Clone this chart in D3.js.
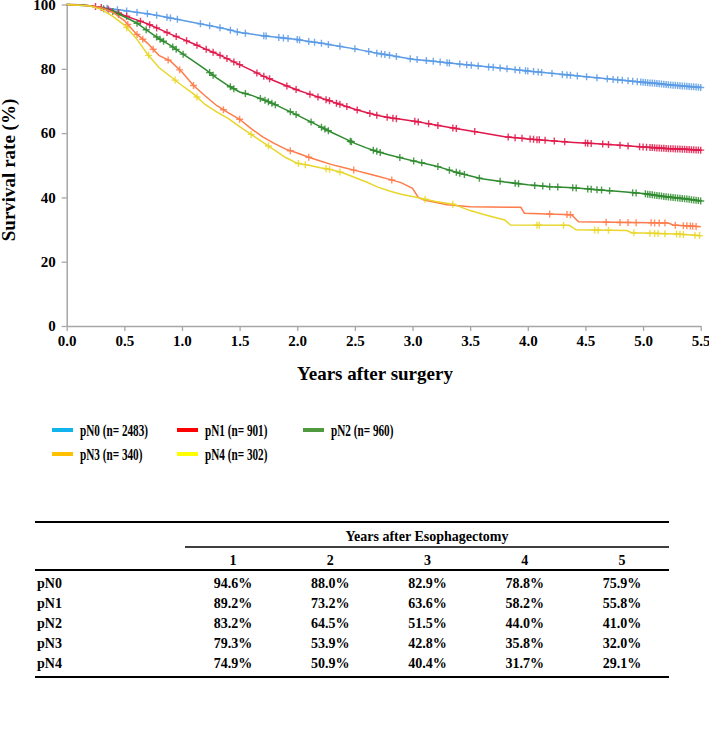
<!DOCTYPE html>
<html>
<head>
<meta charset="utf-8">
<script src="https://cdn.jsdelivr.net/npm/d3@7"></script>
<style>
  body { margin: 0; background: #fff; }
  text { font-family: "Liberation Serif", "Times New Roman", serif; font-weight: bold; }
</style>
</head>
<body>
<div id="chart"></div>
<script>
// Kaplan-Meier knots (years, survival %)
var t0 = [0,0.1,0.2,0.3,0.4,0.5,0.6,0.7,0.8,0.9,1.0,1.1,1.2,1.3,1.4,1.5,1.6,1.7,1.8,1.9,2.0,2.1,2.2,2.3,2.4,2.5,2.6,2.7,2.8,2.9,3.0,3.2,3.4,3.6,3.8,4.0,4.2,4.4,4.6,4.8,5.0,5.1,5.2,5.3,5.4,5.5];
var s0 = [100,99.8,99.5,99.1,98.6,98.1,97.6,97.1,96.5,95.8,95.1,94.4,93.7,93.0,92.2,91.3,90.8,90.3,89.9,89.5,89.1,88.5,88.0,87.4,86.8,86.2,85.5,84.8,84.2,83.6,83.0,82.3,81.5,80.8,80.1,79.3,78.6,77.9,77.2,76.5,75.8,75.5,75.1,74.8,74.5,74.2];
var t1 = [0,0.1,0.2,0.3,0.4,0.5,0.6,0.7,0.8,0.9,1.0,1.1,1.2,1.3,1.4,1.5,1.6,1.7,1.8,1.9,2.0,2.1,2.2,2.3,2.4,2.5,2.6,2.7,2.8,2.9,3.0,3.2,3.4,3.6,3.8,4.0,4.2,4.4,4.6,4.8,5.0,5.2,5.4,5.5];
var s1 = [100,99.9,99.6,99.1,98.1,96.6,95.3,94.0,92.4,90.8,89.3,87.8,86.2,84.7,83.0,81.3,79.6,77.8,76.3,74.8,73.4,72.2,71.0,69.8,68.6,67.4,66.4,65.5,64.8,64.3,63.8,62.5,61.3,60.1,58.9,58.2,57.6,57.1,56.7,56.2,55.7,55.2,54.9,54.7];
var t2 = [0,0.1,0.2,0.3,0.4,0.5,0.6,0.7,0.8,0.9,1.0,1.1,1.2,1.3,1.4,1.5,1.6,1.7,1.8,1.9,2.0,2.1,2.2,2.3,2.4,2.5,2.6,2.7,2.8,2.9,3.0,3.2,3.4,3.6,3.8,4.0,4.2,4.4,4.6,4.8,5.0,5.2,5.4,5.5];
var s2 = [100,99.9,99.6,98.9,97.8,96.2,94.4,91.9,89.4,87.3,84.8,82.4,79.9,77.2,74.8,72.8,71.8,70.5,69.0,67.3,65.6,63.8,62.0,60.2,58.5,56.8,55.4,54.2,53.2,52.3,51.4,49.8,47.6,45.8,44.8,43.9,43.3,43.0,42.4,41.8,41.2,40.2,39.4,38.9];
var t3 = [0,0.2,0.3,0.4,0.5,0.6,0.7,0.8,0.9,1.0,1.1,1.2,1.3,1.4,1.5,1.6,1.7,1.8,1.9,2.0,2.1,2.2,2.3,2.4,2.5,2.6,2.7,2.8,2.9,3.0,3.05,3.1,3.3,3.5,3.94,3.97,4.38,4.44,5.22,5.26,5.5];
var s3 = [100,99.6,99.0,97.6,95.0,91.0,88.0,84.2,82.4,79.0,74.8,71.6,68.6,66.4,64.3,61.4,58.8,56.8,55.0,53.8,52.5,51.3,50.2,49.3,48.4,47.5,46.6,45.6,44.6,42.8,40.0,39.2,37.7,37.1,36.9,35.1,34.6,32.4,32.0,31.4,30.9];
var t4 = [0,0.2,0.3,0.4,0.5,0.6,0.7,0.8,0.9,1.0,1.1,1.2,1.3,1.4,1.5,1.6,1.7,1.8,1.9,2.0,2.1,2.2,2.3,2.4,2.5,2.6,2.7,2.8,2.9,3.0,3.2,3.35,3.5,3.65,3.8,3.85,4.36,4.42,4.86,4.9,5.3,5.5];
var s4 = [100,99.5,98.5,96.3,93.6,89.6,84.6,80.4,77.6,74.8,72.2,68.9,66.6,64.6,62.0,59.6,57.2,54.8,52.4,50.6,50.0,49.2,48.6,47.6,46.2,44.8,43.2,42.0,41.0,40.3,38.7,37.9,35.9,34.4,33.0,31.4,31.3,29.9,29.7,29.0,28.6,28.1];

// censored observations (years)
var c0 = [0.35,0.44,0.52,0.61,0.7,0.78,0.87,0.9,0.96,1.16,1.24,1.33,1.42,1.48,1.55,1.71,1.73,1.84,1.88,1.92,2.0,2.02,2.1,2.15,2.21,2.27,2.37,2.5,2.62,2.69,2.73,2.76,2.8,2.86,2.98,3.04,3.12,3.18,3.24,3.3,3.32,3.41,3.47,3.51,3.57,3.66,3.7,3.76,3.82,3.89,3.93,3.98,4.0,4.05,4.09,4.12,4.21,4.3,4.34,4.37,4.43,4.51,4.6,4.69,4.74,4.78,4.82,4.87,4.91,4.95,4.98,5.0,5.02,5.04,5.06,5.08,5.1,5.12,5.14,5.16,5.18,5.2,5.22,5.24,5.26,5.28,5.3,5.32,5.34,5.36,5.38,5.4,5.42,5.44,5.46,5.48,5.5];
var c1 = [0.25,0.3,0.36,0.45,0.52,0.64,0.72,0.78,0.87,0.95,1.04,1.13,1.21,1.27,1.33,1.39,1.45,1.5,1.65,1.71,1.76,1.91,1.99,2.11,2.18,2.25,2.28,2.34,2.37,2.43,2.52,2.63,2.69,2.78,2.83,2.86,3.02,3.05,3.14,3.22,3.35,3.38,3.54,3.83,3.89,3.95,4.02,4.05,4.08,4.1,4.15,4.23,4.32,4.5,4.52,4.55,4.65,4.7,4.8,4.87,4.97,5.0,5.03,5.06,5.08,5.1,5.12,5.14,5.16,5.18,5.2,5.22,5.24,5.26,5.28,5.3,5.32,5.34,5.36,5.38,5.4,5.42,5.44,5.46,5.48,5.5];
var c2 = [0.32,0.4,0.45,0.61,0.69,0.78,0.81,0.84,0.92,0.95,1.01,1.24,1.27,1.42,1.45,1.55,1.68,1.72,1.75,1.78,1.81,1.94,1.99,2.12,2.21,2.24,2.27,2.46,2.47,2.66,2.69,2.72,2.89,3.01,3.08,3.22,3.32,3.38,3.41,3.45,3.58,3.76,3.89,3.92,4.06,4.13,4.19,4.26,4.39,4.42,4.52,4.55,4.6,4.64,4.71,4.91,4.94,5.02,5.04,5.06,5.08,5.1,5.12,5.14,5.16,5.18,5.2,5.22,5.24,5.26,5.28,5.3,5.32,5.34,5.36,5.38,5.4,5.42,5.44,5.46,5.48,5.5];
var c3 = [0.53,0.61,0.66,0.75,0.88,0.98,1.1,1.36,1.5,1.94,2.1,2.49,2.82,4.19,4.34,4.37,4.68,4.8,4.87,4.94,5.07,5.1,5.14,5.19,5.28,5.35,5.38,5.41,5.43,5.46];
var c4 = [0.52,0.71,0.94,1.13,1.6,1.75,2.01,2.07,2.25,2.28,2.37,3.11,3.35,4.08,4.1,4.31,4.58,4.61,4.7,4.92,5.06,5.1,5.13,5.19,5.29,5.32,5.35,5.45,5.49];

var groupNames = ["pN0", "pN1", "pN2", "pN3", "pN4"];
var groupN = [2483, 901, 960, 340, 302];
var xTicks = [0,0.5,1,1.5,2,2.5,3,3.5,4,4.5,5,5.5];
var yTicks = [0,20,40,60,80,100];

// survival table
var tableYears = ["1", "2", "3", "4", "5"];
var tableRows = [
  ["94.6%", "88.0%", "82.9%", "78.8%", "75.9%"],
  ["89.2%", "73.2%", "63.6%", "58.2%", "55.8%"],
  ["83.2%", "64.5%", "51.5%", "44.0%", "41.0%"],
  ["79.3%", "53.9%", "42.8%", "35.8%", "32.0%"],
  ["74.9%", "50.9%", "40.4%", "31.7%", "29.1%"]
];

var curveColors = ["#5b9be6", "#e0174a", "#2e8b2e", "#ff7b4a", "#e8d62a"];
var legendColors = ["#12b2ec", "#ff0000", "#4f9a3f", "#ffc000", "#ffff00"];

var svg = d3.select("#chart").append("svg")
  .attr("width", 709)
  .attr("height", 731);

var x = d3.scaleLinear().domain([0, 5.5]).range([66.7, 700.7]);
var y = d3.scaleLinear().domain([0, 100]).range([326, 4.5]);

var groups = [
  {times: t0, surv: s0, cens: c0},
  {times: t1, surv: s1, cens: c1},
  {times: t2, surv: s2, cens: c2},
  {times: t3, surv: s3, cens: c3},
  {times: t4, surv: s4, cens: c4}
];

// axes
var xAxis = svg.append("g")
  .attr("transform", "translate(0," + y(0) + ")")
  .call(d3.axisBottom(x).tickValues(xTicks).tickFormat(d3.format(".1f")).tickSize(5).tickSizeOuter(0).tickPadding(4));
var yAxis = svg.append("g")
  .attr("transform", "translate(" + x(0) + ",0)")
  .call(d3.axisLeft(y).tickValues(yTicks).tickSize(5).tickSizeOuter(0).tickPadding(6));

[xAxis, yAxis].forEach(function(ax) {
  ax.select(".domain").attr("stroke", "#a6a6a6").attr("stroke-width", 1.5);
  ax.selectAll(".tick line").attr("stroke", "#a6a6a6").attr("stroke-width", 1.3);
  ax.selectAll(".tick text")
    .attr("fill", "#000")
    .style("font-family", "'Liberation Serif', serif")
    .style("font-weight", "bold")
    .style("font-size", "15px");
});

// curves
var line = d3.line()
  .x(function(d) { return x(d[0]); })
  .y(function(d) { return y(d[1]); });

groups.forEach(function(g, i) {
  var pts = g.times.map(function(t, k) { return [t, g.surv[k]]; });
  var survAt = d3.scaleLinear().domain(g.times).range(g.surv);

  svg.append("path")
    .datum(pts)
    .attr("fill", "none")
    .attr("stroke", curveColors[i])
    .attr("stroke-width", 1.5)
    .attr("d", line);

  svg.append("g").selectAll("path")
    .data(g.cens)
    .enter().append("path")
    .attr("transform", function(t) {
      return "translate(" + x(t) + "," + y(survAt(t)) + ")";
    })
    .attr("d", "M-3.5,0H3.5M0,-3.5V3.5")
    .attr("stroke", curveColors[i])
    .attr("stroke-opacity", 0.85)
    .attr("stroke-width", 1.4);
});

// axis titles
svg.append("text")
  .attr("x", 375)
  .attr("y", 380)
  .attr("text-anchor", "middle")
  .attr("font-size", "19px")
  .text("Years after surgery");

svg.append("text")
  .attr("transform", "translate(15,170) rotate(-90)")
  .attr("text-anchor", "middle")
  .attr("font-size", "19px")
  .text("Survival rate (%)");

// legend
var legendX = [52, 177, 303, 52, 177];
var legendY = [430, 430, 430, 454, 454];
groupNames.forEach(function(name, i) {
  var lg = svg.append("g").attr("transform", "translate(" + legendX[i] + "," + legendY[i] + ")");
  lg.append("line")
    .attr("x1", 0).attr("x2", 21)
    .attr("y1", 0).attr("y2", 0)
    .attr("stroke", legendColors[i])
    .attr("stroke-width", 4);
  lg.append("text")
    .attr("transform", "translate(28,5.5) scale(0.68,1)")
    .attr("font-size", "16.5px")
    .text(name + " (n= " + groupN[i] + ")");
});

// table
var colX = d3.scalePoint().domain(tableYears).range([233, 622]);
var tableLeft = 35, tableRight = 669;

function hline(x1, x2, yy, w) {
  svg.append("line")
    .attr("x1", x1).attr("x2", x2)
    .attr("y1", yy).attr("y2", yy)
    .attr("stroke", "#000")
    .attr("stroke-width", w);
}
hline(tableLeft, tableRight, 522, 2);
hline(185, tableRight, 547, 1.3);
hline(tableLeft, tableRight, 570, 2);
hline(tableLeft, tableRight, 677, 2);

svg.append("text")
  .attr("x", 427)
  .attr("y", 541)
  .attr("text-anchor", "middle")
  .attr("font-size", "14px")
  .text("Years after Esophagectomy");

svg.append("g").selectAll("text")
  .data(tableYears)
  .enter().append("text")
  .attr("x", function(d) { return colX(d); })
  .attr("y", 565)
  .attr("text-anchor", "middle")
  .attr("font-size", "14px")
  .text(function(d) { return d; });

tableRows.forEach(function(row, r) {
  var ry = 588 + r * 20;
  svg.append("text")
    .attr("x", 37)
    .attr("y", ry)
    .attr("font-size", "14px")
    .text(groupNames[r]);
  row.forEach(function(v, c) {
    svg.append("text")
      .attr("x", colX(tableYears[c]))
      .attr("y", ry)
      .attr("text-anchor", "middle")
      .attr("font-size", "14px")
      .text(v);
  });
});
</script>
</body>
</html>
